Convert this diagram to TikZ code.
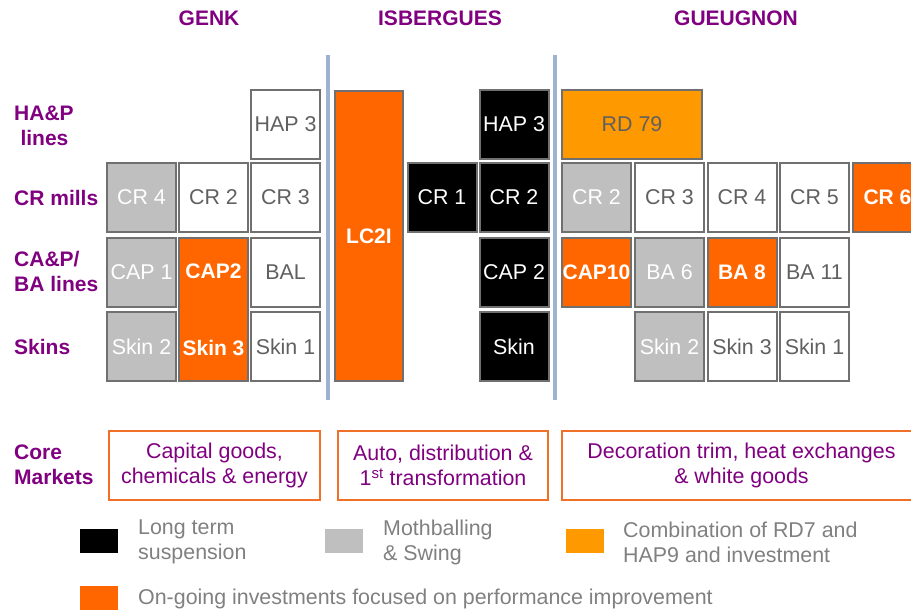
\documentclass[tikz,border=0pt]{standalone}
\usepackage{fontspec}
\setmainfont{Liberation Sans}
\definecolor{purp}{RGB}{128,0,128}
\definecolor{edge}{RGB}{112,112,112}
\definecolor{txt}{RGB}{96,96,96}
\definecolor{mgray}{RGB}{191,191,191}
\definecolor{orng}{RGB}{255,102,0}
\definecolor{amber}{RGB}{255,153,0}
\definecolor{sepblue}{RGB}{158,179,206}
\definecolor{mktline}{RGB}{240,112,40}
\definecolor{legtxt}{RGB}{128,128,128}
\begin{document}
\begin{tikzpicture}[x=1pt,y=-1pt,
    font=\fontsize{21.4}{25}\selectfont,
    cell/.style={draw=edge,line width=2pt,minimum width=69pt,minimum height=69pt,inner sep=0pt,text=txt},
    idle/.style={cell,fill=mgray,text=white},
    halt/.style={cell,fill=black,text=white},
    invest/.style={cell,fill=orng,text=white,font=\fontsize{21}{25}\selectfont\bfseries},
    combo/.style={cell,fill=amber},
    sitehead/.style={text=purp,font=\fontsize{21}{25}\selectfont\bfseries},
    rowlab/.style={sitehead,anchor=west,align=left,inner sep=0pt},
    market/.style={draw=mktline,line width=1.5pt,minimum height=69pt,align=center,text=purp,inner sep=0pt},
    keybox/.style={minimum width=38pt,minimum height=24pt,inner sep=0pt},
    keytext/.style={anchor=west,align=left,inner sep=0pt,text=legtxt},
    sep/.style={draw=sepblue,line width=4pt}]
  \useasboundingbox (0,0) rectangle (911,613);
  \draw
    (209,18) node[sitehead] (genk){GENK}
    (440,18) node[sitehead] (isb){ISBERGUES}
    (736,18) node[sitehead] (gueu){GUEUGNON};
  \draw
    (14,125.5) node[rowlab] (hap){HA\&P\\\hspace{0.3em}lines}
    (14,197.5) node[rowlab] (cr){CR mills}
    (14,271) node[rowlab] (cap){CA\&P/\\BA lines}
    (14,346.5) node[rowlab] (skins){Skins}
    (14,465) node[rowlab] (core){Core\\Markets};
  \draw[sep] (328,55) -- (328,400);
  \draw[sep] (555,55) -- (555,400);
  \draw
    (285.5,124.5) node[cell] (ghap3){HAP 3}
    (141.5,197) node[idle] (gcr4){CR 4}
    (213.5,197) node[cell] (gcr2){CR 2}
    (285.5,197) node[cell] (gcr3){CR 3}
    (141.5,272.5) node[idle] (gcap1){CAP 1}
    (213.5,309.5) node[invest,minimum height=143pt] (gcap2){}
    (285.5,272.5) node[cell] (gbal){BAL}
    (141.5,346.5) node[idle] (gskin2){Skin 2}
    (285.5,346.5) node[cell] (gskin1){Skin 1};
  \node[text=white,font=\fontsize{21}{25}\selectfont\bfseries] (gcap2t) at (213.5,271) {CAP2};
  \node[text=white,font=\fontsize{21}{25}\selectfont\bfseries] (gskin3t) at (213.5,348) {Skin 3};
  \draw
    (369,236) node[invest,minimum width=68pt,minimum height=290pt] (ilc2i){LC2I}
    (442,197) node[halt] (icr1){CR 1}
    (514,124.5) node[halt] (ihap3){HAP 3}
    (514,197) node[halt] (icr2){CR 2}
    (514,272.5) node[halt] (icap2){CAP 2}
    (514,346.5) node[halt] (iskin){Skin};
  \draw
    (632,124.5) node[combo,minimum width=140pt] (rd79){RD 79}
    (596.5,197) node[idle] (ucr2){CR 2}
    (669.5,197) node[cell] (ucr3){CR 3}
    (742,197) node[cell] (ucr4){CR 4}
    (814.5,197) node[cell] (ucr5){CR 5}
    (887.5,197) node[invest] (ucr6){CR 6}
    (596.5,272.5) node[invest] (ucap10){CAP10}
    (669.5,272.5) node[idle] (uba6){BA 6}
    (742,272.5) node[invest] (uba8){BA 8}
    (814.5,272.5) node[cell] (uba11){BA 11}
    (669.5,346.5) node[idle] (uskin2){Skin 2}
    (742,346.5) node[cell] (uskin3){Skin 3}
    (814.5,346.5) node[cell] (uskin1){Skin 1};
  \draw
    (214.5,465.5) node[market,minimum width=211pt] (mgenk){Capital goods,\\chemicals \& energy}
    (443,465.5) node[market,minimum width=210pt] (misb){Auto, distribution \&\\1\textsuperscript{st} transformation}
    (741.5,465.5) node[market,minimum width=359pt] (mgueu){Decoration trim, heat exchanges\\\& white goods};
  \draw
    (99,541) node[keybox,fill=black] (kblack){}
    (344,541) node[keybox,fill=mgray] (kgray){}
    (584.5,541) node[keybox,fill=amber] (kamber){}
    (99,597.5) node[keybox,fill=orng] (korng){};
  \draw
    (138,542) node[keytext] (tblack){Long term\\suspension}
    (383,542) node[keytext] (tgray){Mothballing\\\& Swing}
    (623,542) node[keytext] (tamber){Combination of RD7 and\\HAP9 and investment}
    (138,599) node[keytext] (torng){On-going investments focused on performance improvement};
\end{tikzpicture}
\end{document}
